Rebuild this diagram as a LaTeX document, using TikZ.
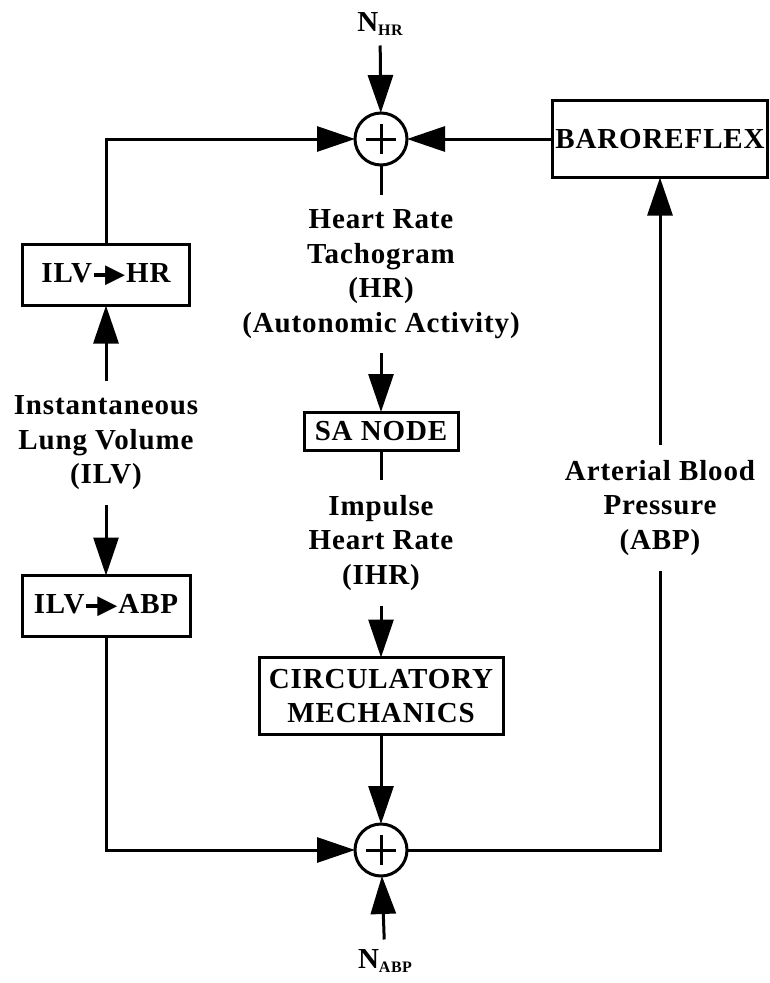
\documentclass[tikz,border=0pt]{standalone}
\usepackage{fontspec}
\setmainfont{Liberation Serif}[LetterSpace=3]
\newfontfamily\symfont{DejaVu Sans}
\usetikzlibrary{arrows.meta,positioning}

% small arrow used inside the block labels
\newcommand{\inarrow}{\kern2pt\rule[6pt]{15pt}{3.5pt}\kern-4pt{\symfont\fontsize{26}{26}\selectfont ▶}\kern1pt}
\newcommand{\noisesub}[1]{\raisebox{-4pt}{\fontsize{16}{16}\selectfont #1}}

\begin{document}
\begin{tikzpicture}[
    x=1pt, y=-1pt,
    line width=3pt,
    font=\fontsize{29}{34.5}\selectfont\bfseries,
    arr/.style={-{Triangle[length=38pt,width=25pt]}},
    blockbox/.style={rectangle, draw, line width=3pt, inner sep=0pt, outer sep=0pt, align=center},
    sumnode/.style={circle, draw, minimum size=52pt, inner sep=0pt, outer sep=0pt,
        path picture={\draw[line width=3pt]
            ([xshift=-15pt]path picture bounding box.center) -- ([xshift=15pt]path picture bounding box.center)
            ([yshift=-15pt]path picture bounding box.center) -- ([yshift=15pt]path picture bounding box.center);}},
    sigtext/.style={align=center, inner sep=15pt, outer sep=0pt},
    noiselabel/.style={inner sep=10pt, outer sep=0pt}
]
    \useasboundingbox (0,0) rectangle (770,983);

    % --- summing junctions and noise inputs ---
    \node[sumnode] (sumhr) at (381, 139) {};
    \node[sumnode] (sumabp) at (381, 850) {};
    \node[noiselabel] (nhr) at (380, 24) {N\noisesub{HR}};
    \node[noiselabel] (nabp) at (385, 961) {N\noisesub{ABP}};

    % --- blocks ---
    \node[blockbox, minimum width=167pt, minimum height=61pt] (ilvhr) at (106, 275) {ILV\inarrow HR};
    \node[blockbox, minimum width=168pt, minimum height=61pt] (ilvabp) at (106, 606) {ILV\inarrow ABP};
    \node[blockbox, minimum width=154pt, minimum height=38pt] (sanode) at (381, 431) {SA NODE};
    \node[blockbox, minimum width=244pt, minimum height=77pt] (circ) at (381, 696) {CIRCULATORY\\MECHANICS};
    \node[blockbox, minimum width=215pt, minimum height=77pt] (baro) at (660, 139) {BAROREFLEX};

    % --- signal names ---
    \node[sigtext] (hrtext) at (381, 274) {Heart Rate\\Tachogram\\(HR)\\(Autonomic Activity)};
    \node[sigtext] (ihrtext) at (381, 543) {Impulse\\Heart Rate\\(IHR)};
    \node[sigtext] (ilvtext) at (106, 443) {Instantaneous\\Lung Volume\\(ILV)};
    \node[sigtext] (abptext) at (660, 508) {Arterial Blood\\Pressure\\(ABP)};

    % --- connections ---
    \draw[arr] (nhr) -- (sumhr);
    \draw[arr] (nabp) -- (sumabp);
    \draw[arr] (ilvhr.north) |- (sumhr);
    \draw[arr] (baro) -- (sumhr);
    \draw (sumhr) -- (hrtext);
    \draw[arr] (hrtext) -- (sanode);
    \draw (sanode) -- (ihrtext);
    \draw[arr] (ihrtext) -- (circ);
    \draw[arr] (circ) -- (sumabp);
    \draw[arr] (ilvtext) -- (ilvhr);
    \draw[arr] (ilvtext) -- (ilvabp);
    \draw[arr] (ilvabp.south) |- (sumabp);
    \draw (sumabp) -| (abptext);
    \draw[arr] (abptext) -- (baro);
\end{tikzpicture}
\end{document}
